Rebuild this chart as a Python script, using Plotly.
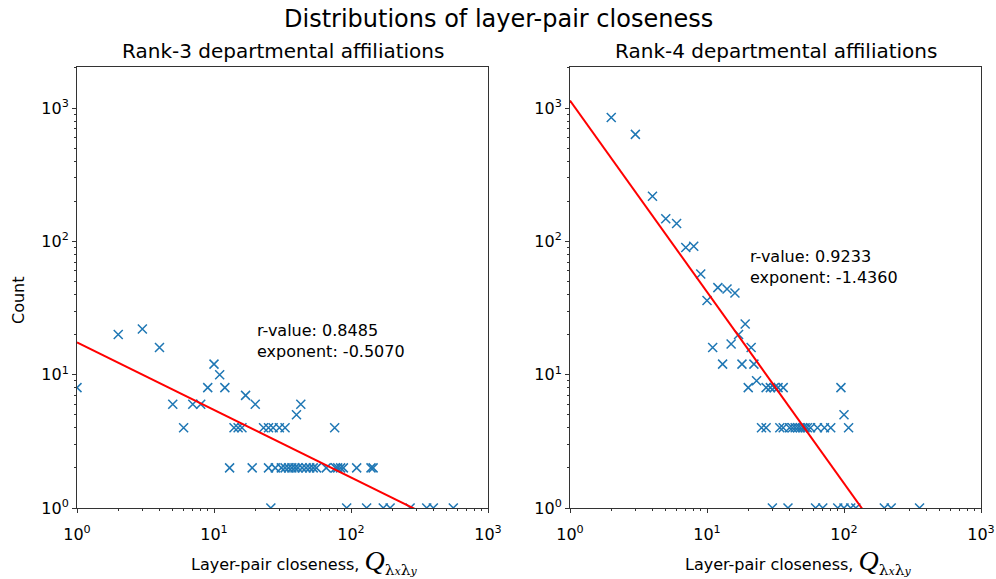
import plotly.graph_objects as go

# Rank-3 departmental affiliations: (closeness, count)
r3_x = [1, 2, 3, 4, 5, 6, 7, 8, 9, 10, 11, 12, 14, 15, 16, 17, 20, 23, 25, 27, 30, 33, 40, 43, 76]
r3_y = [8, 20, 22, 16, 6, 4, 6, 6, 8, 12, 10, 8, 4, 4, 4, 7, 6, 4, 4, 4, 4, 4, 5, 6, 4]
r3_x2 = [13, 19, 25, 28, 31, 33, 35, 37, 39, 41, 44, 47, 50, 53, 56, 66, 77, 80, 84, 88, 110, 140, 145]
r3_x1 = [26, 93, 130, 172, 193, 270, 357, 399, 558]

# Rank-4 departmental affiliations
r4_x = [2, 3, 4, 5, 6, 7, 8, 9, 10, 11, 12, 13, 14, 15, 16, 17, 18, 19, 20, 21, 22, 23,
        27, 29, 31, 33, 36, 95, 100, 108]
r4_y = [850, 635, 218, 148, 136, 90, 92, 57, 36, 16, 45, 12, 44, 17, 41, 20, 12, 24, 8, 16, 12, 9,
        8, 8, 8, 8, 8, 8, 5, 4]
r4_x4 = [25, 27, 34, 36, 40, 42, 44, 46, 48, 50, 52, 54, 57, 64, 72, 80]
r4_x1 = [30, 39, 62, 70, 90, 100, 112, 122, 197, 221, 356]

# power-law fits: amplitude, exponent, r-value
r3_fit = (17.5, -0.5070, 0.8485)
r4_fit = (1140.0, -1.4360, 0.9233)

panels = [
    ("Rank-3 departmental affiliations",
     r3_x + r3_x2 + r3_x1, r3_y + [2] * len(r3_x2) + [1] * len(r3_x1), r3_fit),
    ("Rank-4 departmental affiliations",
     r4_x + r4_x4 + r4_x1, r4_y + [4] * len(r4_x4) + [1] * len(r4_x1), r4_fit),
]

FONT = "DejaVu Sans"
BLUE = "#1f77b4"
W, H = 996, 579
xdomains = [[77 / W, 488 / W], [570 / W, 981 / W]]
ydomain = [(H - 508) / H, (H - 66.5) / H]

XLABEL = ("Layer-pair closeness, "
          "<span style='font-family:Liberation Serif;font-size:28px'><i>Q</i></span>"
          "<span style='font-family:DejaVu Serif;font-size:22px'><sub>λ"
          "<span style='font-size:11px'><i>x</i></span>λ"
          "<span style='font-size:11px'><i>y</i></span></sub></span>")

fig = go.Figure()
annotations = []
for i, (title, xs, ys, (amp, expo, rval)) in enumerate(panels):
    xa = "x" if i == 0 else "x2"
    ya = "y" if i == 0 else "y2"
    fig.add_trace(go.Scatter(
        x=xs, y=ys, mode="markers", xaxis=xa, yaxis=ya,
        marker=dict(symbol="x-thin", size=9, color=BLUE, line=dict(color=BLUE, width=1.5)),
        showlegend=False,
    ))
    fx = [1, max(xs)]
    fy = [amp * v ** expo for v in fx]
    fig.add_trace(go.Scatter(
        x=fx, y=fy, mode="lines", xaxis=xa, yaxis=ya,
        line=dict(color="red", width=2), showlegend=False,
    ))
    xc = sum(xdomains[i]) / 2
    annotations.append(dict(text=title, x=xc, y=(H - 51) / H, xref="paper", yref="paper",
                            xanchor="center", yanchor="middle", showarrow=False,
                            font=dict(family=FONT, size=20, color="black")))
    annotations.append(dict(text=XLABEL, x=xc + 22 / W, y=(H - 562) / H, xref="paper", yref="paper",
                            xanchor="center", yanchor="middle", showarrow=False,
                            font=dict(family=FONT, size=16, color="black")))
    annotations.append(dict(text="r-value: %.4f<br>exponent: %.4f" % (rval, expo),
                            x=1.301, y=[1.25, 1.81][i], xref=xa, yref=ya,
                            xanchor="left", yanchor="middle", align="left", showarrow=False,
                            font=dict(family=FONT, size=16, color="black")))

annotations.append(dict(text="Distributions of layer-pair closeness", x=0.5, y=(H - 19) / H,
                        xref="paper", yref="paper", xanchor="center", yanchor="middle",
                        showarrow=False, font=dict(family=FONT, size=24, color="black")))
annotations.append(dict(text="Count", x=18 / W, y=(H - 300) / H, xref="paper", yref="paper",
                        xanchor="center", yanchor="middle", showarrow=False, textangle=-90,
                        font=dict(family=FONT, size=16, color="black")))

ticks = [1, 10, 100, 1000]
ticktext = ["10<sup>0</sup>", "10<sup>1</sup>", "10<sup>2</sup>", "10<sup>3</sup>"]
minor_vals = [m * d for d in [1, 10, 100, 1000] for m in range(2, 10)]
axis_common = dict(
    type="log", showgrid=False, zeroline=False, showline=True, mirror=True, automargin=False,
    linecolor="#333", linewidth=1, ticks="outside", ticklen=4, tickcolor="#333",
    tickvals=ticks, ticktext=ticktext, tickfont=dict(family=FONT, size=16, color="black"),
    minor=dict(ticks="outside", ticklen=2, tickcolor="#333", tickvals=minor_vals, showgrid=False),
)

fig.update_layout(
    width=W, height=H, margin=dict(l=0, r=0, t=0, b=0, autoexpand=False),
    paper_bgcolor="white", plot_bgcolor="white",
    xaxis=dict(axis_common, domain=xdomains[0], range=[0, 3], anchor="y", ticklabelstandoff=8),
    xaxis2=dict(axis_common, domain=xdomains[1], range=[0, 3], anchor="y2", ticklabelstandoff=8),
    yaxis=dict(axis_common, domain=ydomain, range=[0, 3.312], anchor="x"),
    yaxis2=dict(axis_common, domain=ydomain, range=[0, 3.312], anchor="x2"),
    annotations=annotations,
)

# the page body has a default 8px margin; drop it so the figure sits at the window origin
fig.write_html("out.html", config={"displayModeBar": False},
               post_script="document.body.style.margin='0';")
